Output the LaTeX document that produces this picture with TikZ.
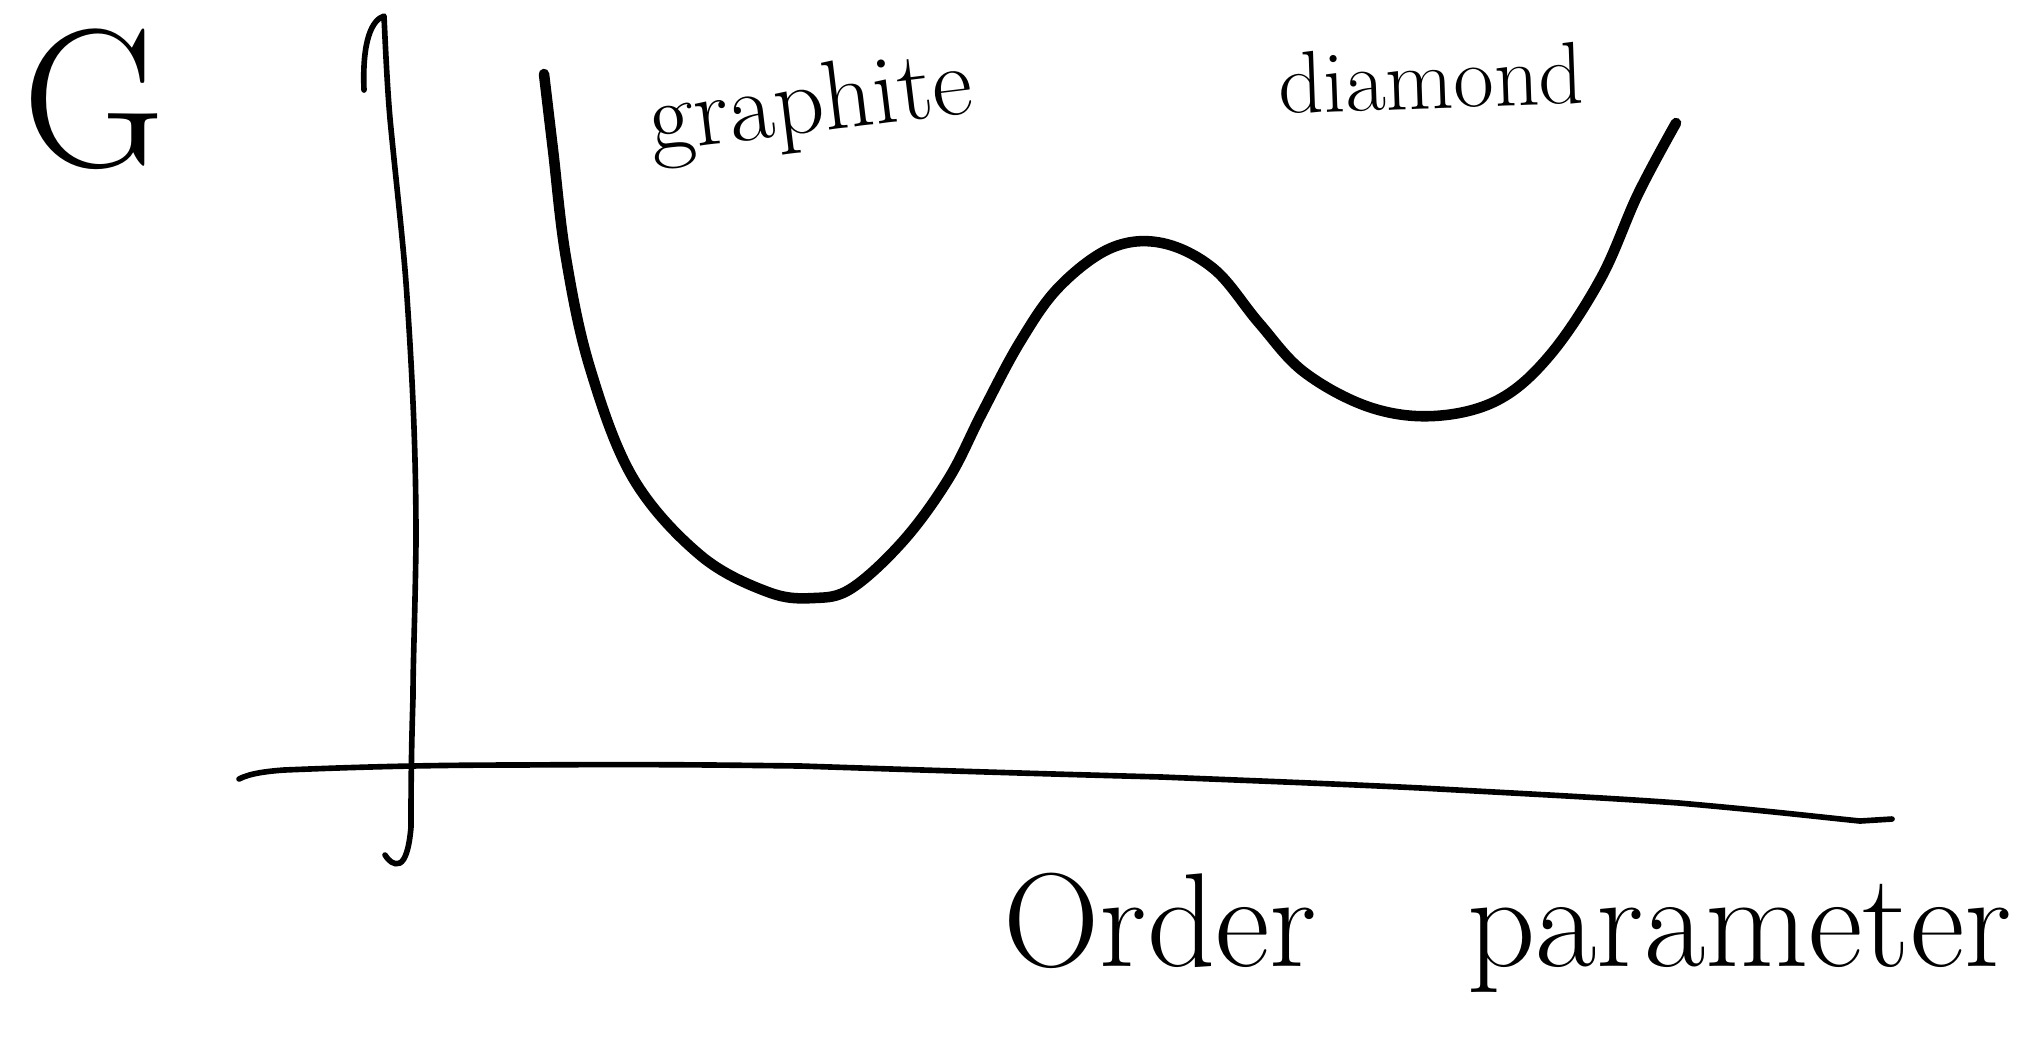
\documentclass[tikz,border=0pt]{standalone}
\usetikzlibrary{positioning}
\begin{document}
\begin{tikzpicture}[x=0.01cm, y=-0.01cm, line cap=round, line join=round,
  axis/.style={line width=1.6pt},
  energy/.style={line width=3pt},
  lbl/.style={anchor=base west, inner sep=0pt}]
\useasboundingbox (0,0) rectangle (2025,1041);
% axes
\draw[axis] (364,90) .. controls (362,40) and (372,20) .. (384,16)
  .. controls (386,60) and (388,100) .. (391,129)
  .. controls (398,200) and (404,250) .. (407,297)
  .. controls (414,400) and (416,470) .. (416,542)
  .. controls (415,620) and (413,660) .. (413,697)
  .. controls (411,760) and (411,800) .. (411,827)
  .. controls (409,850) and (405,860) .. (400,863)
  .. controls (394,866) and (388,860) .. (385,855);
\draw[axis] (239,779) .. controls (250,773) and (270,771) .. (284,770)
  .. controls (380,766) and (450,765) .. (517,765)
  .. controls (650,764) and (720,765) .. (801,766)
  .. controls (950,771) and (1050,774) .. (1162,777)
  .. controls (1260,781) and (1340,784) .. (1421,788)
  .. controls (1530,794) and (1610,798) .. (1679,803)
  .. controls (1770,811) and (1820,817) .. (1860,821)
  -- (1892,819);
% free energy curve
\draw[energy] plot[smooth, tension=0.6] coordinates {
  (544,74) (553,150) (566,258) (590,368) (633,478) (700,555)
  (768,592) (814,598) (852,588) (904,540) (949,478) (982,413)
  (1020,342) (1059,287) (1111,248) (1162,243) (1214,269) (1259,323)
  (1304,372) (1369,407) (1434,416) (1498,400) (1550,355) (1601,278)
  (1638,194) (1676,123)};
% labels
\node[lbl, font=\fontsize{56}{60}\selectfont] (gibbs) at (22,166) {G};
\node[lbl, rotate=7, font=\fontsize{28}{32}\selectfont] (graphite) at (652,152) {graphite};
\node[lbl, rotate=2, font=\fontsize{25}{30}\selectfont] (diamond) at (1279,114) {diamond};
\node[lbl, font=\fontsize{38}{42}\selectfont] (order) at (1003,966) {Order\hspace{1.5cm}parameter};
\end{tikzpicture}
\end{document}
